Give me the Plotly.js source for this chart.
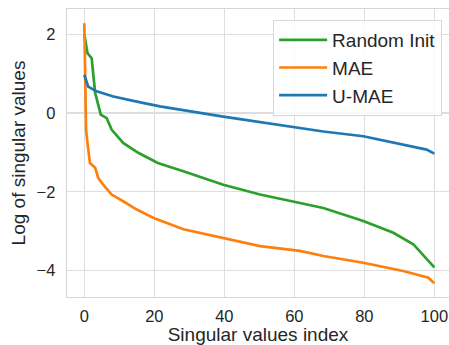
<!DOCTYPE html>
<html>
<head>
<meta charset="utf-8">
<script src="https://cdn.plot.ly/plotly-3.0.1.min.js"></script>
<style>html,body{margin:0;padding:0;background:#fff;}#chart{width:449px;height:345px;}</style>
</head>
<body>
<div id="chart"></div>
<script>
const randomX = [0, 0.9, 2.1, 3.1, 4.7, 6.4, 7.8, 11.1, 15.4, 18.8, 21, 28.3, 39.7, 50.2, 61.6, 68.3, 79.7, 88.3, 94, 100];
const randomY = [2.0, 1.52, 1.39, 0.51, -0.04, -0.13, -0.42, -0.76, -1.01, -1.18, -1.27, -1.48, -1.82, -2.07, -2.28, -2.41, -2.74, -3.04, -3.33, -3.92];

const maeX = [0, 0.5, 0.9, 1.6, 3.1, 4.0, 5.4, 7.8, 11.1, 15, 18.8, 20.2, 28.3, 39.7, 50.2, 61.6, 68.3, 79.7, 91.1, 98.3, 100];
const maeY = [2.28, -0.42, -0.76, -1.27, -1.39, -1.65, -1.82, -2.07, -2.24, -2.45, -2.62, -2.68, -2.95, -3.18, -3.38, -3.50, -3.63, -3.80, -4.01, -4.18, -4.32];

const umaeX = [0, 1.1, 3.5, 8.3, 15, 18.8, 21.6, 39.7, 61.6, 68.3, 79.7, 91.1, 97.8, 100];
const umaeY = [0.97, 0.67, 0.55, 0.42, 0.29, 0.21, 0.17, -0.09, -0.38, -0.47, -0.59, -0.80, -0.93, -1.03];

const names = ['Random Init', 'MAE', 'U-MAE'];
const colors = ['#2ca02c', '#ff7f0e', '#1f77b4'];
const xTicks = [0, 20, 40, 60, 80, 100];
const yTicks = [-4, -2, 0, 2];

const series = [[randomX, randomY], [maeX, maeY], [umaeX, umaeY]];
const traces = series.map((s, i) => ({
  x: s[0], y: s[1], name: names[i], type: 'scatter', mode: 'lines',
  line: {color: colors[i], width: 2.7}
}));

const fam = 'Liberation Sans, Arial, sans-serif';
const tickFont = {family: fam, size: 16.5, color: '#262626'};
const titleFont = {family: fam, size: 19, color: '#262626'};
const layout = {
  width: 449, height: 345,
  margin: {l: 67, r: 0, t: 9, b: 48},
  paper_bgcolor: '#fff', plot_bgcolor: '#fff',
  font: tickFont,
  showlegend: true,
  legend: {
    x: 0.982, xanchor: 'right', y: 0.962, yanchor: 'top',
    bgcolor: 'rgba(255,255,255,0.8)', bordercolor: '#d9d9d9', borderwidth: 1,
    font: {family: fam, size: 19, color: '#262626'},
    itemwidth: 48,
    tracegroupgap: 0
  },
  xaxis: {
    range: [-4.95, 104.2], tickvals: xTicks, ticktext: xTicks.map(String),
    showgrid: true, gridcolor: '#dedede', gridwidth: 1.3, zeroline: false,
    showline: true, mirror: true, linecolor: '#d6d6d6', linewidth: 1.3,
    ticks: '', ticklabelstandoff: 4,
    tickfont: tickFont,
    title: {text: 'Singular values index', font: titleFont, standoff: 0}
  },
  yaxis: {
    range: [-4.67, 2.64], tickvals: yTicks,
    showgrid: true, gridcolor: '#dedede', gridwidth: 1.3, zeroline: false,
    showline: true, mirror: true, linecolor: '#d6d6d6', linewidth: 1.3,
    ticks: '', ticklabelstandoff: 7,
    tickfont: tickFont,
    title: {text: 'Log of singular values', font: titleFont, standoff: 6}
  }
};
Plotly.newPlot('chart', traces, layout, {staticPlot: true, displayModeBar: false});
</script>
</body>
</html>
